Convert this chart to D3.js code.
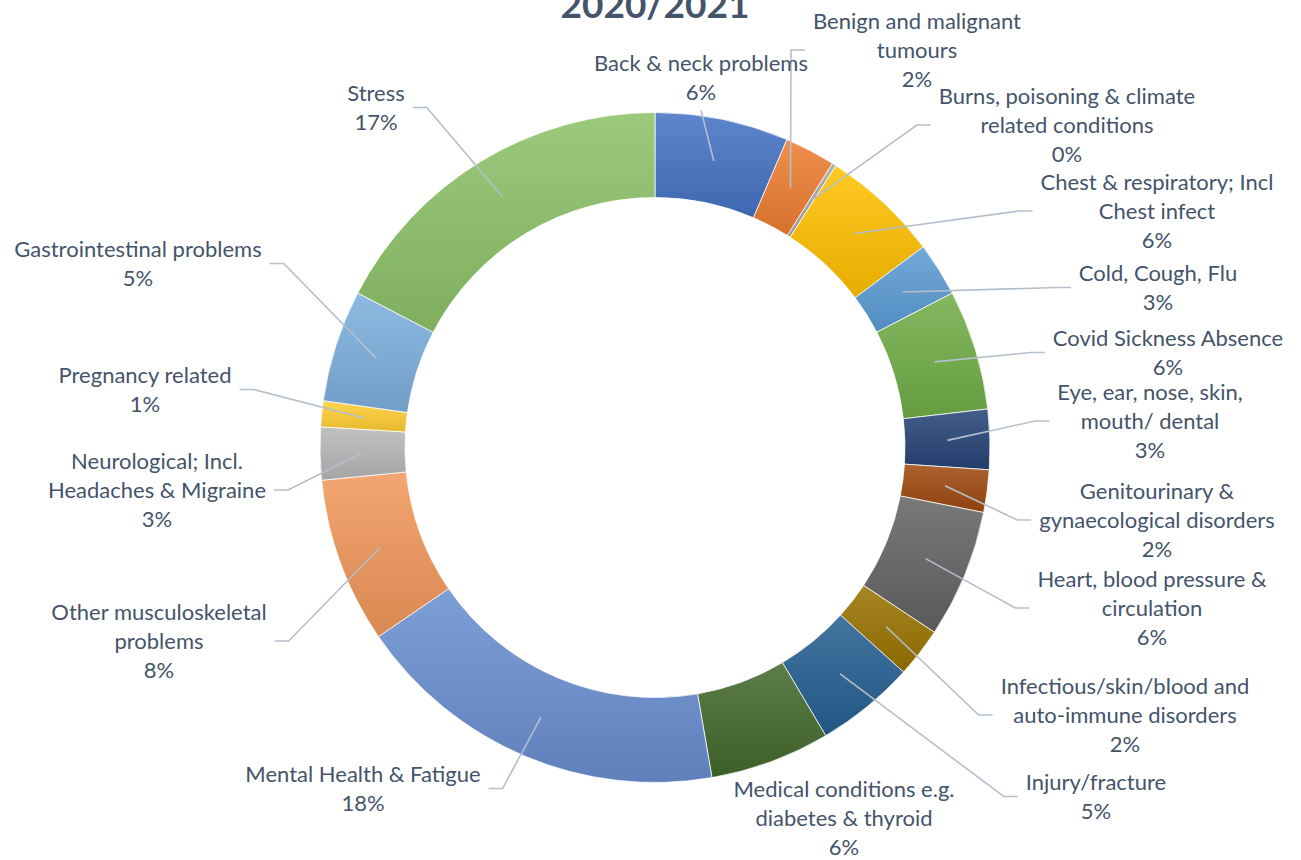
<!DOCTYPE html>
<html>
<head>
<meta charset="utf-8">
<script src="https://cdn.jsdelivr.net/npm/d3@7"></script>
<style>
  body { margin: 0; background: #fff; }
  svg { display: block; }
</style>
</head>
<body>
<div id="chart"></div>
<script>
// chart data (share of sickness absence)
var title = "2020/2021";
var categories = [
  "Back & neck problems",
  "Benign and malignant\ntumours",
  "Burns, poisoning & climate\nrelated conditions",
  "Chest & respiratory; Incl\nChest infect",
  "Cold, Cough, Flu",
  "Covid Sickness Absence",
  "Eye, ear, nose, skin,\nmouth/ dental",
  "Genitourinary &\ngynaecological disorders",
  "Heart, blood pressure &\ncirculation",
  "Infectious/skin/blood and\nauto-immune disorders",
  "Injury/fracture",
  "Medical conditions e.g.\ndiabetes & thyroid",
  "Mental Health & Fatigue",
  "Other musculoskeletal\nproblems",
  "Neurological; Incl.\nHeadaches & Migraine",
  "Pregnancy related",
  "Gastrointestinal problems",
  "Stress"
];
var values = [6.45, 2.45, 0.2, 5.7, 2.6, 5.8, 2.9, 2.05, 6.2, 2.4, 4.8, 5.8, 18.2, 8.0, 2.55, 1.25, 5.4, 17.4];

// styling / layout (not data)
var colors = ["#4472C4", "#ED7D31", "#A5A5A5", "#FFC000", "#5B9BD5", "#70AD47",
              "#264478", "#9E480E", "#636363", "#997300", "#255E91", "#43682B",
              "#698ED0", "#F1975A", "#B7B7B7", "#FFCD33", "#7CAFDD", "#8CC168"];
// label block centre x and centre y of its first line
var labelX = [701, 917, 1067, 1157, 1158, 1168, 1150, 1157, 1152, 1125, 1096, 844, 363, 159, 157, 145, 138, 376];
var labelY = [63, 21, 96, 182, 273, 338, 392, 491, 579, 686, 782, 789, 774, 612, 461, 375, 249, 93];
var showLeader = [true, true, true, true, true, true, true, true, true, true, true, false, true, true, true, true, true, true];

var W = 1301, H = 860;
var cx = 655, cy = 447.5, rOuter = 335, rInner = 250;
var lineH = 29;
var textColor = "#44546A", leaderColor = "#B4BFCC";

var svg = d3.select("#chart").append("svg")
    .attr("width", W)
    .attr("height", H);

var defs = svg.append("defs");

var total = d3.sum(values);
var pct = d3.format(".0%");

var data = categories.map(function(c, i) {
  return { name: c, value: values[i], color: colors[i], i: i };
});

var pie = d3.pie().sort(null).value(function(d) { return d.value; });
var arc = d3.arc().innerRadius(rInner).outerRadius(rOuter);
var arcs = pie(data);

// vertical gradient per slice, lighter on top like the office style
arcs.forEach(function(a) {
  var c = a.data.color;
  var g = defs.append("linearGradient")
      .attr("id", "grad" + a.data.i)
      .attr("x1", 0).attr("y1", 0).attr("x2", 0).attr("y2", 1);
  g.append("stop").attr("offset", "0%").attr("stop-color", d3.interpolateRgb(c, "#fff")(0.14));
  g.append("stop").attr("offset", "100%").attr("stop-color", d3.interpolateRgb(c, "#000")(0.1));
});

var donut = svg.append("g").attr("transform", "translate(" + cx + "," + cy + ")");

donut.selectAll("path.slice")
    .data(arcs)
    .enter().append("path")
    .attr("class", "slice")
    .attr("d", arc)
    .attr("fill", function(d) { return "url(#grad" + d.data.i + ")"; })
    .attr("stroke", "#fff")
    .attr("stroke-width", 0.75);

// title, partly cut by the top edge as in the original
svg.append("text")
    .attr("x", cx)
    .attr("y", 18)
    .attr("text-anchor", "middle")
    .style("font-family", "Lato, 'Open Sans', sans-serif")
    .style("font-weight", "bold")
    .style("font-size", "37px")
    .attr("fill", textColor)
    .text(title);

// labels
var labels = svg.append("g").attr("class", "labels");
var leaders = svg.insert("g", ".labels").attr("class", "leaders");

arcs.forEach(function(a, i) {
  var lines = a.data.name.split("\n").concat([pct(a.data.value / total)]);
  var g = labels.append("g");
  var maxW = 0;
  lines.forEach(function(t, k) {
    var txt = g.append("text")
        .attr("x", labelX[i])
        .attr("y", labelY[i] + k * lineH)
        .attr("dy", "0.35em")
        .attr("text-anchor", "middle")
        .style("font-family", "Lato, 'Open Sans', sans-serif")
        .style("font-size", "22px")
        .attr("fill", textColor)
        .text(t);
    maxW = Math.max(maxW, txt.node().getComputedTextLength());
  });

  if (!showLeader[i]) return;

  var c = arc.centroid(a);
  var sx = cx + c[0], sy = cy + c[1];
  var left = labelX[i] - maxW / 2, right = labelX[i] + maxW / 2;
  var midY = labelY[i] + (lines.length - 1) * lineH / 2;
  var pts;
  if (sx > left && sx < right) {
    // label straight above: go to bottom of label block
    var bottom = labelY[i] + (lines.length - 1) * lineH + 18;
    pts = [[sx, sy], [labelX[i], bottom]];
  } else if (sx < left) {
    pts = [[sx, sy], [left - 22, midY], [left - 8, midY]];
  } else {
    pts = [[sx, sy], [right + 22, midY], [right + 8, midY]];
  }
  leaders.append("path")
      .attr("d", d3.line()(pts))
      .attr("fill", "none")
      .attr("stroke", leaderColor)
      .attr("stroke-width", 1.6);
});

// leaders drawn above the donut
svg.node().appendChild(leaders.node());
svg.node().appendChild(labels.node());
</script>
</body>
</html>
